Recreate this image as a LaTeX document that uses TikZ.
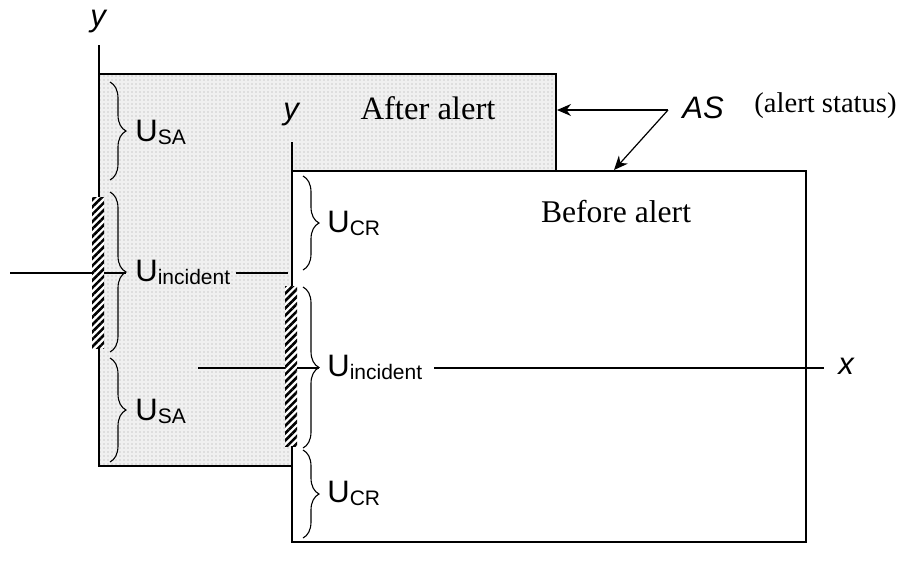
\documentclass[tikz,border=0pt]{standalone}
\usepackage{fontspec}
\setmainfont{Liberation Serif}
\setsansfont{Liberation Sans}
\usetikzlibrary{arrows.meta,decorations.pathreplacing,patterns.meta}
\newcommand{\Ulab}[1]{{\fontsize{15.5}{15.5}\selectfont U}\raisebox{-1.5pt}{\fontsize{10.5}{10.5}\selectfont #1}}

\begin{document}
\begin{tikzpicture}[
  x=0.5pt, y=-0.5pt,
  backpanel/.style={draw, line width=0.7pt, preaction={fill=black!6}, pattern={Dots[distance=2pt,radius=0.45pt]}, pattern color=black!20},
  frontpanel/.style={draw, line width=0.7pt, fill=white},
  hatchbar/.style={preaction={fill=white}, pattern={Lines[angle=45,distance=2.6pt,line width=1.3pt]}},
  ubrace/.style={decorate, decoration={brace, amplitude=8pt}, line width=0.55pt},
  axisline/.style={line width=0.6pt},
  axislbl/.style={font=\sffamily\itshape\fontsize{15.5}{15.5}\selectfont, inner sep=1pt},
  ulbl/.style={anchor=west, inner sep=1pt, font=\sffamily},
  serif/.style={font=\rmfamily\fontsize{15.8}{15.8}\selectfont, inner sep=1pt},
  asarrow/.style={-{Stealth[length=7pt,width=6pt]}, line width=0.6pt}
]
\useasboundingbox (0,0) rectangle (899,564);

% after alert panel
\draw[backpanel] (99,74) rectangle (556,466);
\node[axislbl] (yback) at (98,22) {y};
\coordinate (ybtop) at (99,45);
\coordinate (ybbot) at (99,74);
\draw[axisline] (ybtop) -- (ybbot);
\fill[hatchbar] (92,197) rectangle (104,348);
\draw[ubrace] (110,82) -- (110,180);
\draw[ubrace] (110,192) -- (110,352);
\draw[ubrace] (110,358) -- (110,462);
\node[ulbl] (usa1) at (133,132) {\Ulab{SA}};
\node[ulbl] (uinc1) at (133,272) {\Ulab{incident}};
\node[ulbl] (usa2) at (133,411) {\Ulab{SA}};
\node[serif, font=\rmfamily\fontsize{16.3}{16.3}\selectfont] (after) at (428,108) {After alert};
\coordinate (xbl) at (10,273);
\coordinate (xbh1) at (92,273);
\coordinate (xbh2) at (104,273);
\coordinate (xbtip) at (126,273);
\coordinate (xbm) at (236,273);
\coordinate (xbr) at (288,273);
\draw[axisline] (xbl) -- (xbh1);
\draw[axisline] (xbh2) -- (xbtip);
\draw[axisline] (xbm) -- (xbr);

% before alert panel
\draw[frontpanel] (292,171) rectangle (806,542);
\node[axislbl] (yfront) at (291,115) {y};
\coordinate (yftop) at (292,142);
\coordinate (yfbot) at (292,171);
\draw[axisline] (yftop) -- (yfbot);
\fill[hatchbar] (285,286) rectangle (297,446);
\draw[ubrace] (303,176) -- (303,270);
\draw[ubrace] (303,287) -- (303,448);
\draw[ubrace] (303,450) -- (303,538);
\node[ulbl] (ucr1) at (325,223) {\Ulab{CR}};
\node[ulbl] (uinc2) at (325,367) {\Ulab{incident}};
\node[ulbl] (ucr2) at (325,493) {\Ulab{CR}};
\node[serif] (before) at (616,212) {Before alert};
\coordinate (xfl) at (198,368);
\coordinate (xfh1) at (285,368);
\coordinate (xfh2) at (297,368);
\coordinate (xftip) at (319,368);
\coordinate (xfm) at (434,368);
\coordinate (xfr) at (824,368);
\node[axislbl, anchor=west] (xlbl) at (836,366) {x};
\draw[axisline] (xfl) -- (xfh1);
\draw[axisline] (xfh2) -- (xftip);
\draw[axisline] (xfm) -- (xfr);

% alert status
\node[axislbl, anchor=west] (as) at (680,108) {AS};
\node[font=\rmfamily\fontsize{14.3}{14.3}\selectfont, anchor=east, inner sep=0pt] (asnote) at (897,106) {(alert status)};
\coordinate (asfrom) at (668,110);
\coordinate (asback) at (557,110);
\coordinate (asfront) at (614,170);
\draw[asarrow] (asfrom) -- (asback);
\draw[asarrow] (asfrom) -- (asfront);
\end{tikzpicture}
\end{document}
